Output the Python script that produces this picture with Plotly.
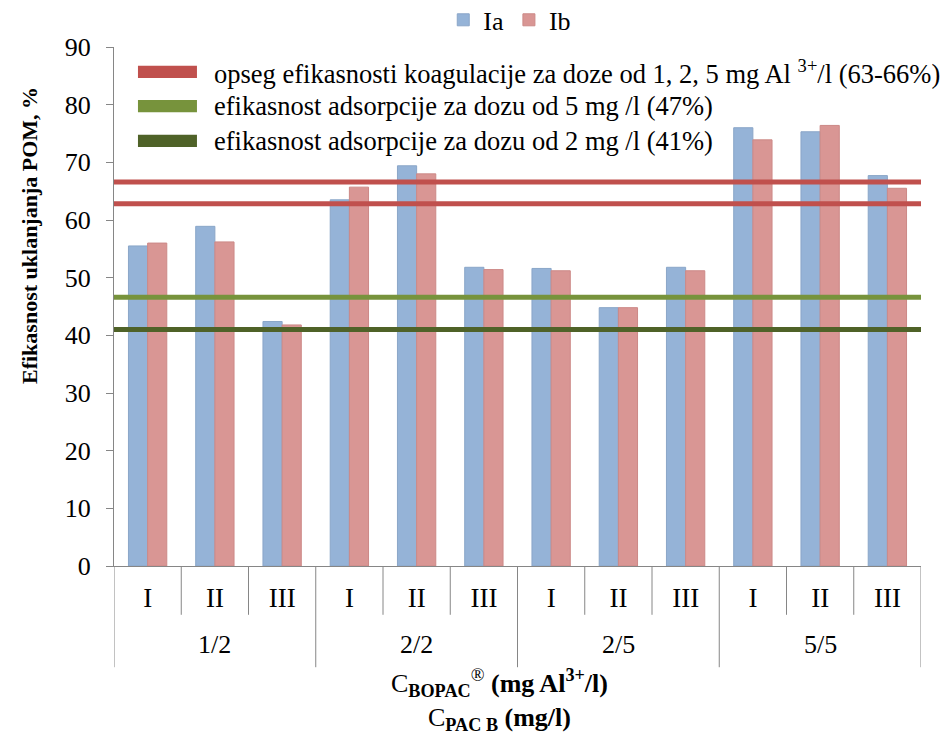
import plotly.graph_objects as go

groups = ["1/2", "2/2", "2/5", "5/5"]
subs = ["I", "II", "III"]
ia = [55.5, 58.9, 42.4, 63.5, 69.4, 51.8, 51.6, 44.8, 51.8, 76.0, 75.3, 67.7]
ib = [56.0, 56.2, 41.8, 65.7, 68.0, 51.4, 51.2, 44.8, 51.2, 73.9, 76.4, 65.5]
coag_range = [66.6, 62.8]
ads5 = [46.6]
ads2 = [41.0]
y_ticks = [0, 10, 20, 30, 40, 50, 60, 70, 80, 90]
line_labels = [
    "opseg efikasnosti koagulacije za doze od 1, 2, 5 mg Al <sup>3+</sup>/l (63-66%)",
    "efikasnost adsorpcije za dozu od 5 mg /l (47%)",
    "efikasnost adsorpcije za dozu od 2 mg /l (41%)",
]
line_colors = ["#C0504D", "#77933C", "#4F6228"]

n_sub = len(subs)
pos = list(range(len(groups) * n_sub))
x_inner = [s for _ in groups for s in subs]

FONT = "Liberation Serif, Times New Roman, serif"
AX = "#868686"
fig = go.Figure()
fig.add_trace(go.Bar(x=pos, y=ia, name="Ia",
                     marker=dict(color="#95B3D7", line=dict(color="#8AA6C8", width=1)),
                     legend="legend"))
fig.add_trace(go.Bar(x=pos, y=ib, name="Ib",
                     marker=dict(color="#D99694", line=dict(color="#CC8987", width=1)),
                     legend="legend"))

line_vals = [(coag_range[0], 0), (coag_range[1], 0), (ads5[0], 1), (ads2[0], 2)]
for v, k in line_vals:
    fig.add_trace(go.Scatter(x=[0, 1], y=[v, v], mode="lines", name=line_labels[k],
                             line=dict(color=line_colors[k], width=5), showlegend=False,
                             xaxis="x2", hoverinfo="skip"))

shapes = []
# category dividers
for gi in range(len(groups) + 1):
    xb = gi * n_sub - 0.5
    shapes.append(dict(type="line", xref="x", yref="paper", x0=xb, x1=xb, y0=0, y1=-0.195,
                       line=dict(color=AX, width=1)))
for gi in range(len(groups)):
    for si in range(1, n_sub):
        xb = gi * n_sub + si - 0.5
        shapes.append(dict(type="line", xref="x", yref="paper", x0=xb, x1=xb, y0=0, y1=-0.094,
                           line=dict(color=AX, width=1)))

annotations = []
for gi, g in enumerate(groups):
    annotations.append(dict(text=g, xref="x", yref="paper", x=gi * n_sub + (n_sub - 1) / 2,
                            y=-0.152, yanchor="middle", showarrow=False,
                            font=dict(family=FONT, size=26)))

# legend for reference lines
leg_y = [0.952, 0.886, 0.819]
for k in range(len(line_labels)):
    shapes.append(dict(type="rect", xref="paper", yref="paper", x0=0.0297, x1=0.1028,
                       y0=leg_y[k] - 0.0118, y1=leg_y[k] + 0.0118,
                       fillcolor=line_colors[k], line=dict(width=0)))
    annotations.append(dict(text=line_labels[k], xref="paper", yref="paper", x=0.1214,
                            y=leg_y[k], xanchor="left", yanchor="middle", showarrow=False,
                            font=dict(family=FONT, size=26.5)))

annotations.append(dict(
    text="C<sub><b>BOPAC</b></sub><sup>®</sup> <b>(mg Al<sup>3+</sup>/l)</b><br>C<sub><b>PAC B</b></sub> <b>(mg/l)</b>",
    xref="paper", yref="paper", x=0.478, y=-0.258, xanchor="center", yanchor="middle",
    showarrow=False, font=dict(family=FONT, size=26)))

annotations.append(dict(
    text="<b>Efikasnost uklanjanja POM, %</b>", textangle=-90,
    xref="paper", yref="paper", x=-0.104, y=0.636, xanchor="center", yanchor="middle",
    showarrow=False, font=dict(family=FONT, size=22)))

fig.update_layout(
    width=945, height=737,
    margin=dict(l=114, r=24, t=47, b=171, autoexpand=False),
    plot_bgcolor="white", paper_bgcolor="white",
    font=dict(family=FONT, size=26, color="black"),
    barmode="group", bargap=0.43, bargroupgap=0,
    xaxis=dict(range=[-0.5, len(pos) - 0.5], tickvals=pos, ticktext=x_inner,
               showline=True, linecolor=AX, linewidth=1, ticks="", showgrid=False,
               zeroline=False, tickfont=dict(family=FONT, size=27), ticklabelstandoff=8,
               automargin=False),
    xaxis2=dict(overlaying="x", range=[0, 1], visible=False),
    yaxis=dict(range=[0, 90], tickvals=y_ticks, showline=True, linecolor=AX,
               linewidth=1, ticks="outside", ticklen=7, tickcolor=AX,
               showgrid=False, zeroline=False, tickfont=dict(family=FONT, size=26),
               ticklabelstandoff=10, automargin=False),
    legend=dict(orientation="h", x=0.408, xanchor="left", yref="container",
                y=0.973, yanchor="middle",
                font=dict(family=FONT, size=26), itemwidth=30, traceorder="normal",
                bgcolor="rgba(0,0,0,0)"),
    shapes=shapes,
    annotations=annotations,
)

fig.write_html("out.html")
